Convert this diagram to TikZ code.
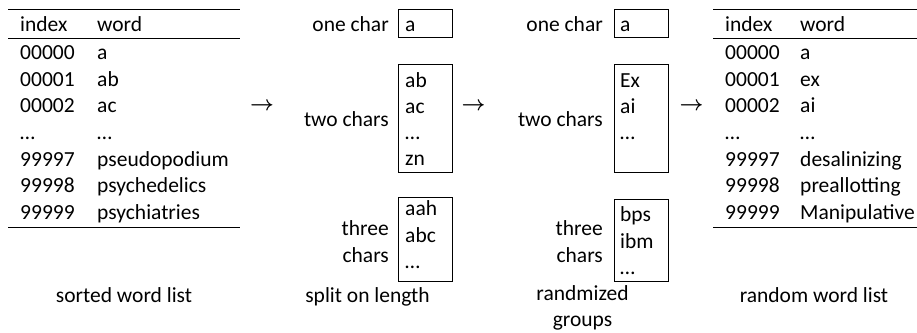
\documentclass[tikz,border=0pt]{standalone}
\usepackage{fontspec}
\setmainfont{Carlito}
\begin{document}
\begin{tikzpicture}[x=1pt,y=-1pt,
  every node/.style={inner sep=0pt, font=\fontsize{21.5}{26}\selectfont},
  lt/.style={anchor=base west},
  rt/.style={anchor=base east},
  ct/.style={anchor=base},
  rule/.style={line width=1pt},
  grp/.style={draw, line width=0.9pt, minimum width=54pt},
  arr/.style={anchor=center, font=\fontsize{20}{24}\selectfont\boldmath}]
\useasboundingbox (0,0) rectangle (917,332);

% ---------- sorted word list ----------
\draw[rule] (8,9) -- (240,9);
\draw[rule] (8,38) -- (240,38);
\draw[rule] (8,227) -- (240,227);
\node[lt] (h1) at (20,31) {index};
\node[lt] (h2) at (97,31) {word};
\node[lt] (i1) at (20,59.5) {00000};  \node[lt] (w1) at (97,59.5) {a};
\node[lt] (i2) at (20,86) {00001};    \node[lt] (w2) at (97,86) {ab};
\node[lt] (i3) at (20,112.5) {00002}; \node[lt] (w3) at (97,112.5) {ac};
\node[lt] (i4) at (20,139) {…};       \node[lt] (w4) at (97,139) {…};
\node[lt] (i5) at (20,166) {99997};   \node[lt] (w5) at (97,166) {pseudopodium};
\node[lt] (i6) at (20,192.5) {99998}; \node[lt] (w6) at (97,192.5) {psychedelics};
\node[lt] (i7) at (20,219) {99999};   \node[lt] (w7) at (97,219) {psychiatries};
\node[ct] (c1) at (124,302) {sorted word list};

\node[arr] (a1) at (262,106) {$\rightarrow$};

% ---------- split on length ----------
\node[rt] (l1) at (389,31) {one char};
\node[grp, minimum height=28pt] (g1) at (425,23) {};
\node[lt] (g1a) at (405,31) {a};
\node[rt] (l2) at (389,126) {two chars};
\node[grp, minimum height=108pt] (g2) at (425,118) {};
\node[lt] (g2a) at (405,87) {ab};
\node[lt] (g2b) at (405,113) {ac};
\node[lt] (g2c) at (405,139) {…};
\node[lt] (g2d) at (405,165) {zn};
\node[rt] (l3a) at (389,235) {three};
\node[rt] (l3b) at (389,262) {chars};
\node[grp, minimum height=84pt] (g3) at (425,239) {};
\node[lt] (g3a) at (405,215) {aah};
\node[lt] (g3b) at (405,242) {abc};
\node[lt] (g3c) at (405,268) {…};
\node[ct] (c2) at (367.5,302) {split on length};

\node[arr] (a2) at (473.5,106) {$\rightarrow$};

% ---------- randomized groups ----------
\node[rt] (m1) at (603,31) {one char};
\node[grp, minimum height=28pt] (r1) at (641,23) {};
\node[lt] (r1a) at (620,31) {a};
\node[rt] (m2) at (603,126) {two chars};
\node[grp, minimum height=108pt] (r2) at (641,118) {};
\node[lt] (r2a) at (620,87) {Ex};
\node[lt] (r2b) at (620,113) {ai};
\node[lt] (r2c) at (620,139) {…};
\node[rt] (m3a) at (603,235) {three};
\node[rt] (m3b) at (603,262) {chars};
\node[grp, minimum height=82pt] (r3) at (641,240) {};
\node[lt] (r3a) at (620,221) {bps};
\node[lt] (r3b) at (620,248) {ibm};
\node[lt] (r3c) at (620,274) {…};
\node[ct] (c3a) at (582.5,300) {randmized};
\node[ct] (c3b) at (582.5,326) {groups};

\node[arr] (a3) at (691.5,106) {$\rightarrow$};

% ---------- random word list ----------
\draw[rule] (713,9) -- (917,9);
\draw[rule] (713,38) -- (917,38);
\draw[rule] (713,227) -- (917,227);
\node[lt] (k1) at (725,31) {index};
\node[lt] (k2) at (800,31) {word};
\node[lt] (j1) at (725,59.5) {00000};  \node[lt] (v1) at (800,59.5) {a};
\node[lt] (j2) at (725,86) {00001};    \node[lt] (v2) at (800,86) {ex};
\node[lt] (j3) at (725,112.5) {00002}; \node[lt] (v3) at (800,112.5) {ai};
\node[lt] (j4) at (725,139) {…};       \node[lt] (v4) at (800,139) {…};
\node[lt] (j5) at (725,166) {99997};   \node[lt] (v5) at (800,166) {desalinizing};
\node[lt] (j6) at (725,192.5) {99998}; \node[lt] (v6) at (800,192.5) {preallotting};
\node[lt] (j7) at (725,219) {99999};   \node[lt] (v7) at (800,219) {Manipulative};
\node[ct] (c4) at (814,302) {random word list};
\end{tikzpicture}
\end{document}
